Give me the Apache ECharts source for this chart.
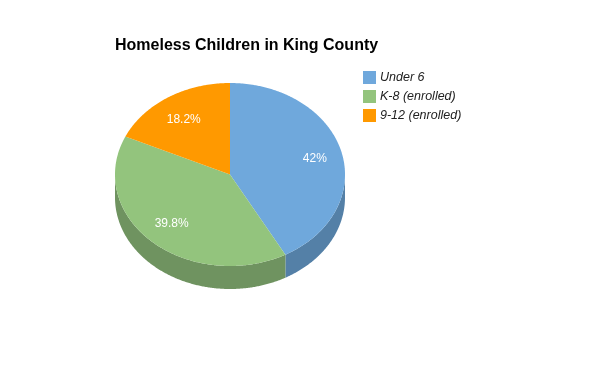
<!DOCTYPE html>
<html>
<head>
<meta charset="utf-8">
<style>html,body{margin:0;padding:0;background:#fff}#chart{width:600px;height:371px}</style>
<script src="https://cdn.jsdelivr.net/npm/echarts@6/dist/echarts.min.js"></script>
</head>
<body>
<div id="chart"></div>
<script>
var categories = ['Under 6', 'K-8 (enrolled)', '9-12 (enrolled)'];
var shares = [42, 39.8, 18.2];

var topColors = ['#6fa8dc', '#93c47d', '#ff9900'];
var sideColors = ['#5480a7', '#6f9360', '#c27400'];

// tilted pie: ECharts pie is always round, so slices are drawn as custom shapes
var cx = 230, cy = 174.5, rx = 115, ry = 91.5, depth = 23;
var total = shares.reduce(function (a, b) { return a + b; }, 0);

function pt(deg, dy) {
  var r = deg * Math.PI / 180;
  return [cx + rx * Math.sin(r), cy - ry * Math.cos(r) + (dy || 0)];
}

function arc(from, to, dy) {
  var pts = [];
  for (var d = from; d < to; d += 0.5) pts.push(pt(d, dy));
  pts.push(pt(to, dy));
  return pts;
}

function renderSlice(index) {
  return function (params, api) {
    var before = shares.slice(0, index).reduce(function (a, b) { return a + b; }, 0);
    var value = api.value(0);
    var start = before / total * 360;
    var end = (before + value) / total * 360;
    var mid = (start + end) / 2 * Math.PI / 180;
    var children = [];

    // only the front half of the rim can be seen
    var sFrom = Math.max(start, 90), sTo = Math.min(end, 270);
    if (sFrom < sTo) {
      children.push({
        type: 'polygon',
        shape: { points: arc(sFrom, sTo, 0).concat(arc(sFrom, sTo, depth).reverse()) },
        style: { fill: sideColors[index] }
      });
    }
    children.push({
      type: 'polygon',
      shape: { points: [[cx, cy]].concat(arc(start, end, 0)) },
      style: { fill: topColors[index] }
    });
    children.push({
      type: 'text',
      x: cx + 0.7 + rx * 0.755 * Math.sin(mid),
      y: cy + 0.5 - ry * 0.722 * Math.cos(mid),
      style: {
        text: value + '%',
        fill: '#fff',
        font: '12px "Liberation Sans", Arial, sans-serif',
        align: 'center',
        verticalAlign: 'middle'
      }
    });
    return { type: 'group', children: children };
  };
}

var option = {
  animation: false,
  title: {
    text: 'Homeless Children in King County',
    left: 110,
    top: 33,
    textStyle: { fontFamily: '"Liberation Sans", Arial, sans-serif', fontSize: 16, fontWeight: 'bold', color: '#000' }
  },
  legend: {
    orient: 'vertical',
    left: 358,
    top: 66,
    itemWidth: 13,
    itemHeight: 13,
    itemGap: 6,
    icon: 'rect',
    selectedMode: false,
    data: categories,
    textStyle: { fontFamily: '"Liberation Sans", Arial, sans-serif', fontSize: 12.5, fontStyle: 'italic', color: '#222', padding: [0, 0, 0, -1] }
  },
  series: categories.map(function (name, i) {
    return {
      type: 'custom',
      name: name,
      coordinateSystem: 'none',
      itemStyle: { color: topColors[i] },
      renderItem: renderSlice(i),
      data: [[shares[i]]]
    };
  })
};

var chart = echarts.init(document.getElementById('chart'));
chart.setOption(option);
</script>
</body>
</html>
